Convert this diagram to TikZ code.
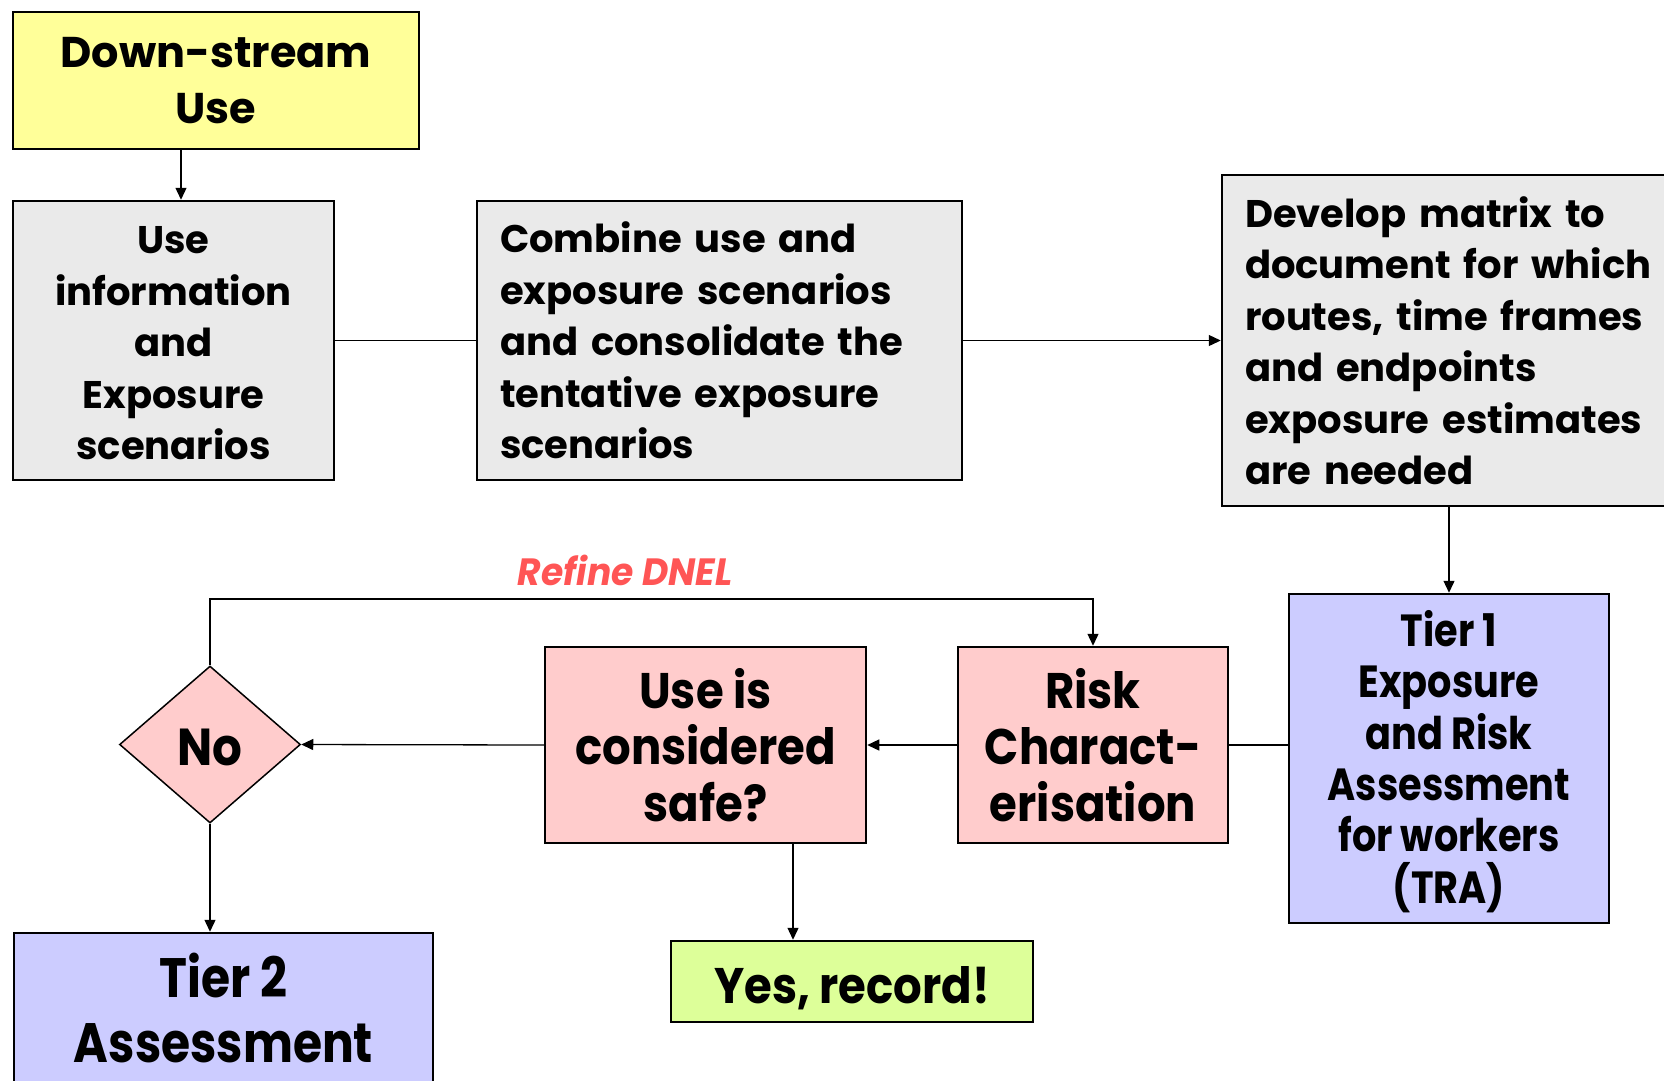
\documentclass[tikz,border=0pt]{standalone}
\usepackage{fontspec}
\setmainfont{Poppins}
\newfontfamily\condfont{Poppins}[FakeStretch=0.9]
\newfontfamily\semicondfont{Poppins}[FakeStretch=0.85]
\newfontfamily\labelfont{Poppins}[FakeStretch=0.95]
\usetikzlibrary{arrows.meta,shapes.geometric}

\definecolor{dsyellow}{HTML}{FFFF99}
\definecolor{stepgrey}{HTML}{EAEAEA}
\definecolor{riskpink}{HTML}{FFCCCC}
\definecolor{tierblue}{HTML}{CCCCFF}
\definecolor{okgreen}{HTML}{DDFF99}
\definecolor{loopred}{HTML}{FF5555}

% invisible strut that lowers a centred text block a little
\newcommand\lift[1]{\rule{0pt}{#1}}

\tikzset{
  flowbox/.style={draw=black, line width=2.5pt, inner sep=0pt, align=center,
                  text=black},
  toptext/.style={font=\bfseries\fontsize{38.5}{51.5}\selectfont},
  lowtext/.style={font=\condfont\bfseries\fontsize{50}{56.8}\selectfont},
  conn/.style={line width=1.3pt, draw=black},
  arr/.style={conn, -{Triangle[length=12pt,width=11pt]}},
}

\begin{document}
\begin{tikzpicture}[x=1pt,y=-1pt]
\clip (0,0) rectangle (1664,1080);
\fill[white] (0,0) rectangle (1664,1080);

% upper row
\node[flowbox, fill=dsyellow, minimum width=406pt, minimum height=137pt,
      font=\bfseries\fontsize{43}{56}\selectfont] (dsu) at (216,80.5)
      {Down-stream\\Use};
\node[flowbox, toptext, fill=stepgrey, minimum width=321pt, minimum height=279pt]
      (info) at (173.5,340.5)
      {\lift{33pt}Use\\information\\and\\Exposure\\scenarios};
\node[flowbox, toptext, fill=stepgrey, align=left, text width=439pt,
      inner xsep=23pt, minimum height=279pt] (comb) at (719.5,340.5)
      {\lift{30pt}Combine use and\\exposure scenarios\\and consolidate the\\tentative exposure\\scenarios};
\node[flowbox, toptext, fill=stepgrey, align=left, text width=412pt,
      inner xsep=23pt, minimum height=331pt] (mat) at (1451,340.5)
      {Develop matrix to\\document for which\\routes, time frames\\and endpoints\\exposure estimates\\are needed};

% lower row
\node[flowbox, fill=tierblue, minimum width=320pt, minimum height=329pt,
      font=\semicondfont\bfseries\fontsize{45}{51.4}\selectfont] (tier1) at (1449,758.5)
      {\lift{42pt}Tier 1\\Exposure\\and Risk\\Assessment\\for workers\\(TRA)};
\node[flowbox, lowtext, fill=riskpink, minimum width=270pt, minimum height=196pt]
      (risk) at (1093,745)
      {Risk\\Charact-\\erisation};
\node[flowbox, lowtext, fill=riskpink, minimum width=321pt, minimum height=196pt]
      (safe) at (705.5,745)
      {Use is\\considered\\safe?};
\node[diamond, draw=black, line width=1.5pt, fill=riskpink, inner sep=0pt,
      minimum width=181pt, minimum height=157pt,
      font=\condfont\bfseries\fontsize{52}{56.8}\selectfont] (no) at (210,744.5)
      {\lift{42pt}No};
\node[flowbox, fill=tierblue, minimum width=419pt, minimum height=149pt,
      font=\semicondfont\bfseries\fontsize{55.5}{65}\selectfont] (tier2) at (223.5,1007.5)
      {\lift{45pt}Tier 2\\Assessment};
\node[flowbox, lowtext, fill=okgreen, minimum width=362pt, minimum height=81pt]
      (yes) at (852,981.5)
      {\lift{50pt}Yes, record!};

\node[text=loopred, font=\labelfont\bfseries\itshape\fontsize{38}{42}\selectfont]
      (refine) at (625,570) {Refine DNEL};

% connectors
\coordinate (dsx) at (181,0);
\coordinate (okx) at (793,0);
\coordinate (loop) at (600,599);

\draw[arr] (dsu.south -| dsx) -- (info.north -| dsx);
\draw[conn] (info.east) -- (comb.west);
\draw[arr] (comb.east) -- (mat.west);
\draw[arr] (mat.south -| tier1.north) -- (tier1.north);
\draw[conn] (tier1.west |- risk.east) -- (risk.east);
\draw[arr] (risk.west) -- (safe.east);
\draw[arr] (safe.west) -- (no.east);
\draw[arr] (no.north) |- (loop) -| (risk.north);
\draw[arr] (no.south) -- (no.south |- tier2.north);
\draw[arr] (safe.south -| okx) -- (yes.north -| okx);
\end{tikzpicture}
\end{document}
